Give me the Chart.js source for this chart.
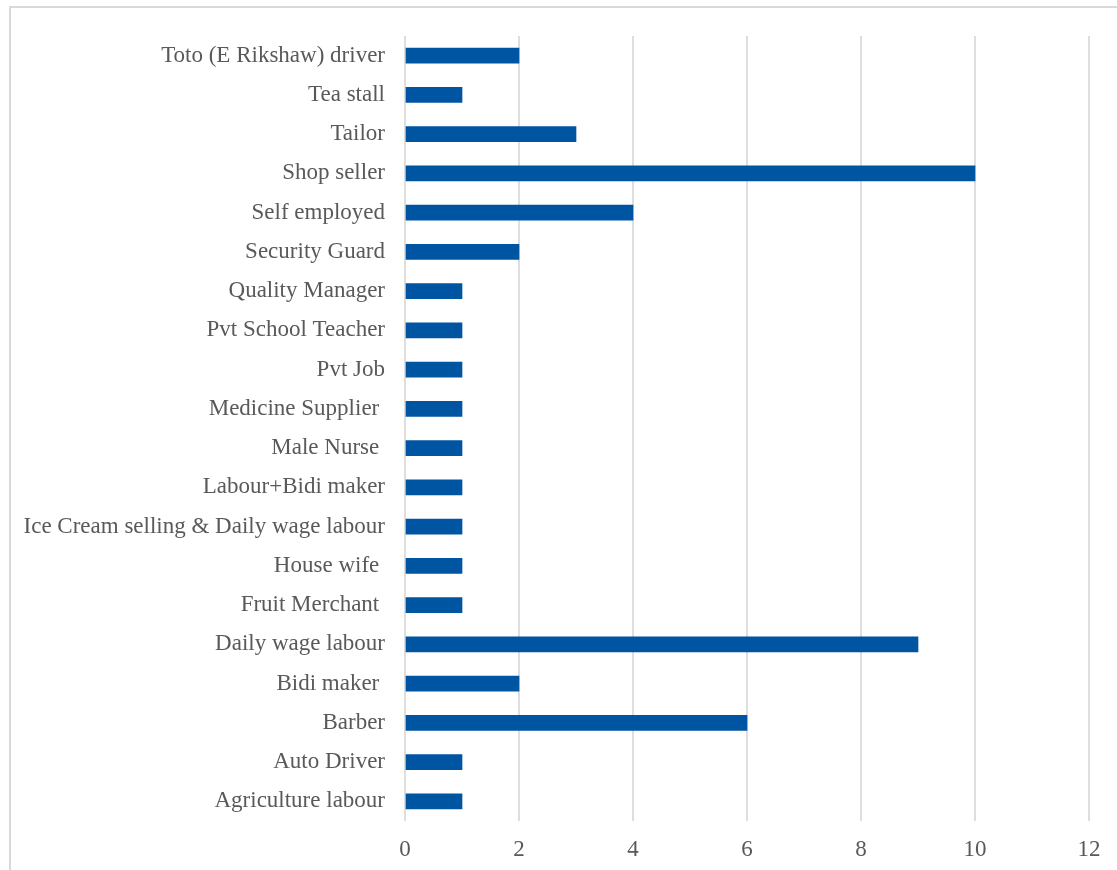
<!DOCTYPE html>
<html>
<head>
<meta charset="utf-8">
<script src="https://cdn.jsdelivr.net/npm/chart.js@4/dist/chart.umd.min.js"></script>
<style>
  html, body { margin: 0; padding: 0; background: #ffffff; overflow: hidden; }
  #wrap { position: relative; width: 1117px; height: 870px; }
  #frame {
    position: absolute; left: 9px; top: 6px; width: 1300px; height: 1000px;
    border: 2px solid #d9d9d9; box-sizing: border-box;
  }
  canvas { position: absolute; left: 0; top: 0; }
</style>
</head>
<body>
<div id="wrap">
  <div id="frame"></div>
  <canvas id="chart" width="1117" height="870"></canvas>
</div>
<script>
// Occupations, listed top to bottom
const occupations = [
  "Toto (E Rikshaw) driver",
  "Tea stall",
  "Tailor",
  "Shop seller",
  "Self employed",
  "Security Guard",
  "Quality Manager",
  "Pvt School Teacher",
  "Pvt Job",
  "Medicine Supplier ",
  "Male Nurse ",
  "Labour+Bidi maker",
  "Ice Cream selling & Daily wage labour",
  "House wife ",
  "Fruit Merchant ",
  "Daily wage labour",
  "Bidi maker ",
  "Barber",
  "Auto Driver",
  "Agriculture labour"
];

// Number of respondents in each occupation
const counts = [2, 1, 3, 10, 4, 2, 1, 1, 1, 1, 1, 1, 1, 1, 1, 9, 2, 6, 1, 1];

// Value axis range
const axisMin = 0;
const axisMax = 12;
const axisStep = 2;

const textColor = "#595959";
const fontFamily = "'Liberation Serif', 'Times New Roman', serif";

new Chart(document.getElementById("chart"), {
  type: "bar",
  data: {
    labels: occupations,
    datasets: [{
      data: counts,
      backgroundColor: "#0055a2",
      borderWidth: 0,
      barThickness: 15
    }]
  },
  options: {
    indexAxis: "y",
    responsive: false,
    animation: false,
    devicePixelRatio: 1,
    layout: { padding: { top: 36, right: 28, left: 0, bottom: 0 } },
    plugins: {
      legend: { display: false },
      tooltip: { enabled: false }
    },
    scales: {
      x: {
        min: axisMin,
        max: axisMax,
        ticks: {
          stepSize: axisStep,
          color: textColor,
          padding: 15,
          font: { family: fontFamily, size: 23 }
        },
        grid: { color: "#dedede", lineWidth: 2, drawTicks: false },
        border: { display: false },
        afterFit: (scale) => { scale.height = 49; }
      },
      y: {
        ticks: {
          color: textColor,
          padding: 20,
          autoSkip: false,
          font: { family: fontFamily, size: 23 }
        },
        grid: { display: false, drawTicks: false },
        border: { display: false },
        afterFit: (scale) => { scale.width = 405; }
      }
    }
  }
});
</script>
</body>
</html>
